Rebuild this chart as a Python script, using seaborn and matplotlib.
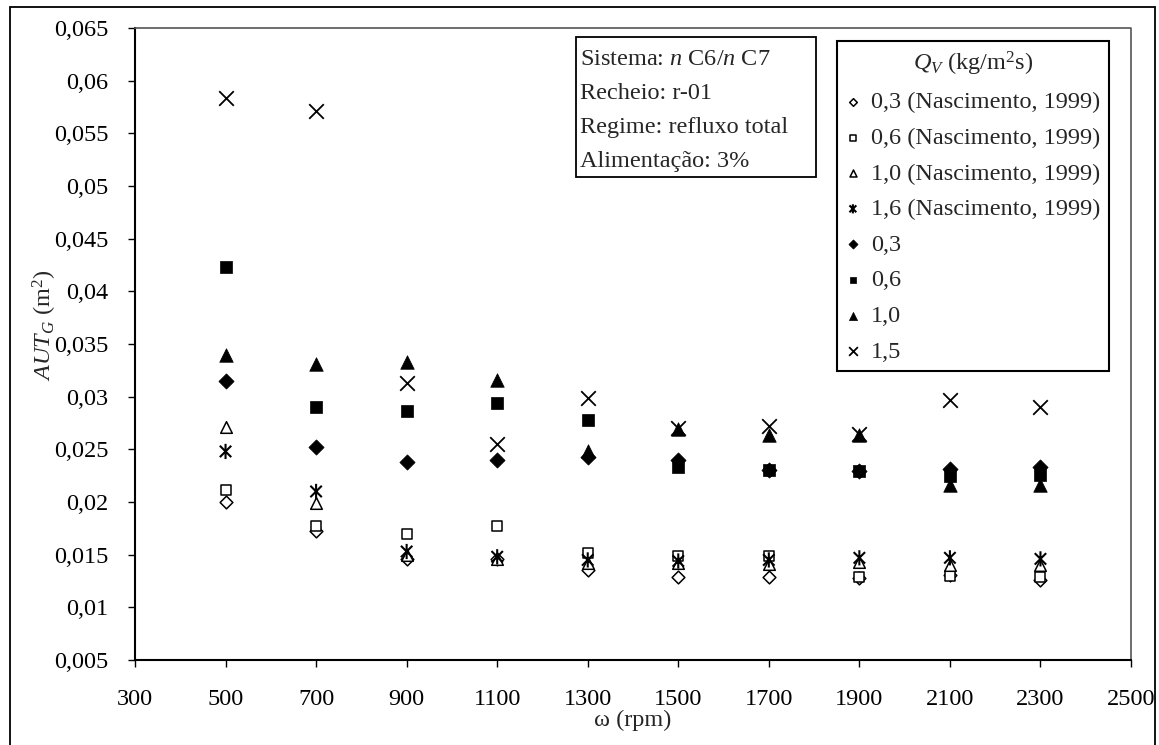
import matplotlib
matplotlib.use("Agg")
import matplotlib.pyplot as plt
from matplotlib.path import Path
from matplotlib.patches import Rectangle
import seaborn as sns

# Rotation speed (rpm)
omega = [500, 700, 900, 1100, 1300, 1500, 1700, 1900, 2100, 2300]

# AUT_G (m^2) for each vapour flux Q_V
aut_03_nasc = [0.0200, 0.0172, 0.0146, 0.0146, 0.0135, 0.0129, 0.0129, 0.0128, 0.0131, 0.0126]
aut_06_nasc = [0.0211, 0.0177, 0.0170, 0.0177, 0.0152, 0.0149, 0.0149, 0.0129, 0.0130, 0.0129]
aut_10_nasc = [0.0271, 0.0199, 0.0150, 0.0146, 0.0142, 0.0142, 0.0141, 0.0143, 0.0140, 0.0140]
aut_16_nasc = [0.0248, 0.0210, 0.0153, 0.0148, 0.0145, 0.0144, 0.0145, 0.0147, 0.0147, 0.0146]
aut_03 = [0.0315, 0.0252, 0.0238, 0.0240, 0.0243, 0.0240, 0.0230, 0.0229, 0.0231, 0.0233]
aut_06 = [0.0423, 0.0290, 0.0286, 0.0294, 0.0278, 0.0233, 0.0230, 0.0229, 0.0225, 0.0226]
aut_10 = [0.0340, 0.0331, 0.0333, 0.0316, 0.0248, 0.0269, 0.0264, 0.0264, 0.0216, 0.0216]
aut_15 = [0.0584, 0.0571, 0.0313, 0.0255, 0.0299, 0.0270, 0.0272, 0.0265, 0.0297, 0.0290]

series_labels = [
    "0,3 (Nascimento, 1999)",
    "0,6 (Nascimento, 1999)",
    "1,0 (Nascimento, 1999)",
    "1,6 (Nascimento, 1999)",
    "0,3",
    "0,6",
    "1,0",
    "1,5",
]

x_ticks = [300, 500, 700, 900, 1100, 1300, 1500, 1700, 1900, 2100, 2300, 2500]
y_ticks = [0.005, 0.01, 0.015, 0.02, 0.025, 0.03, 0.035, 0.04, 0.045, 0.05, 0.055, 0.06, 0.065]
y_tick_labels = ["0,005", "0,01", "0,015", "0,02", "0,025", "0,03", "0,035",
                 "0,04", "0,045", "0,05", "0,055", "0,06", "0,065"]

info_lines = [
    r"Sistema: $\mathit{n}$ C6/$\mathit{n}$ C7",
    "Recheio: r-01",
    "Regime: refluxo total",
    "Alimentação: 3%",
]

sns.set_style("ticks")
plt.rcParams["font.family"] = ["Liberation Serif", "DejaVu Serif"]
plt.rcParams["mathtext.fontset"] = "custom"
plt.rcParams["mathtext.rm"] = "Liberation Serif"
plt.rcParams["mathtext.it"] = "Liberation Serif:italic"
plt.rcParams["mathtext.bf"] = "Liberation Serif:bold"

FS = 17.5

# Asterisk-like star marker: an X crossed by a vertical bar
star = Path(
    [(-0.75, -0.75), (0.75, 0.75), (-0.75, 0.75), (0.75, -0.75), (0, -1.0), (0, 1.0)],
    [Path.MOVETO, Path.LINETO, Path.MOVETO, Path.LINETO, Path.MOVETO, Path.LINETO],
)

styles = [
    dict(marker="D", s=42, facecolor="white", edgecolor="black", linewidth=1.1),
    dict(marker="s", s=55, facecolor="white", edgecolor="black", linewidth=1.1),
    dict(marker="^", s=70, facecolor="white", edgecolor="black", linewidth=1.1),
    dict(marker=star, s=120, facecolor="none", edgecolor="black", linewidth=1.5),
    dict(marker="D", s=60, facecolor="black", edgecolor="black", linewidth=0.5),
    dict(marker="s", s=65, facecolor="black", edgecolor="black", linewidth=0.5),
    dict(marker="^", s=95, facecolor="black", edgecolor="black", linewidth=0.5),
    dict(marker="x", s=110, color="black", linewidth=1.3),
]

series_values = [aut_03_nasc, aut_06_nasc, aut_10_nasc, aut_16_nasc,
                 aut_03, aut_06, aut_10, aut_15]

W, H = 1159, 745
fig = plt.figure(figsize=(W / 100, H / 100), dpi=100)
ax_l, ax_r, ax_t, ax_b = 135, 1131, 28, 660
ax = fig.add_axes([ax_l / W, (H - ax_b) / H, (ax_r - ax_l) / W, (ax_b - ax_t) / H])

for vals, lab, st in zip(series_values, series_labels, styles):
    kw = dict(st)
    if "color" not in kw:
        kw["color"] = "black"
    sns.scatterplot(x=omega, y=vals, ax=ax, label=lab, legend=False, zorder=3, **kw)

ax.set_xlim(300, 2500)
ax.set_ylim(0.005, 0.065)
ax.set_xticks(x_ticks)
ax.set_xticklabels([str(t) for t in x_ticks], fontsize=FS)
ax.set_yticks(y_ticks)
ax.set_yticklabels(y_tick_labels, fontsize=FS)
ax.tick_params(axis="x", direction="out", length=5, width=1, pad=16, colors="black")
ax.tick_params(axis="y", direction="out", length=5, width=1, pad=14, colors="black")

for side in ("left", "bottom"):
    ax.spines[side].set_color("black")
    ax.spines[side].set_linewidth(1.5)
for side in ("top", "right"):
    ax.spines[side].set_visible(True)
    ax.spines[side].set_color("#555555")
    ax.spines[side].set_linewidth(1.2)
    ax.spines[side].set_linestyle((0, (1, 1)))

ax.set_xlabel(r"ω (rpm)", fontsize=FS, labelpad=0)
ax.set_ylabel(r"$AUT_G$ (m$^2$)", fontsize=FS, labelpad=8)
ax.yaxis.set_label_coords(-0.076, 0.53)

# Information box with the operating conditions
def fx(px):
    return (px - ax_l) / (ax_r - ax_l)

def fy(py):
    return (ax_b - py) / (ax_b - ax_t)

box = Rectangle((fx(576), fy(177)), fx(816) - fx(576), fy(37) - fy(177),
                transform=ax.transAxes, facecolor="white", edgecolor="black",
                linewidth=1.3, zorder=4)
ax.add_patch(box)
for line, base in zip(info_lines, [65, 99, 133, 167]):
    ax.text(fx(580), fy(base), line, transform=ax.transAxes, fontsize=FS,
            ha="left", va="baseline", zorder=5)

leg = ax.legend(
    title=r"$Q_V$ (kg/m$^2$s)",
    loc="upper right",
    bbox_to_anchor=(fx(1109), fy(41)),
    borderaxespad=0,
    fontsize=FS,
    title_fontsize=FS,
    frameon=True,
    fancybox=False,
    edgecolor="black",
    framealpha=1,
    markerscale=0.6,
    handlelength=0.6,
    handletextpad=0.45,
    labelspacing=0.56,
    borderpad=0.35,
)
leg.get_frame().set_linewidth(1.5)
leg.set_zorder(6)

# Outer chart border
fig.patches.append(Rectangle((10 / W, -0.02), 1145 / W, 1.02 - 7 / H,
                             transform=fig.transFigure, fill=False,
                             edgecolor="black", linewidth=1.3))

fig.savefig("out.png", dpi=100)
